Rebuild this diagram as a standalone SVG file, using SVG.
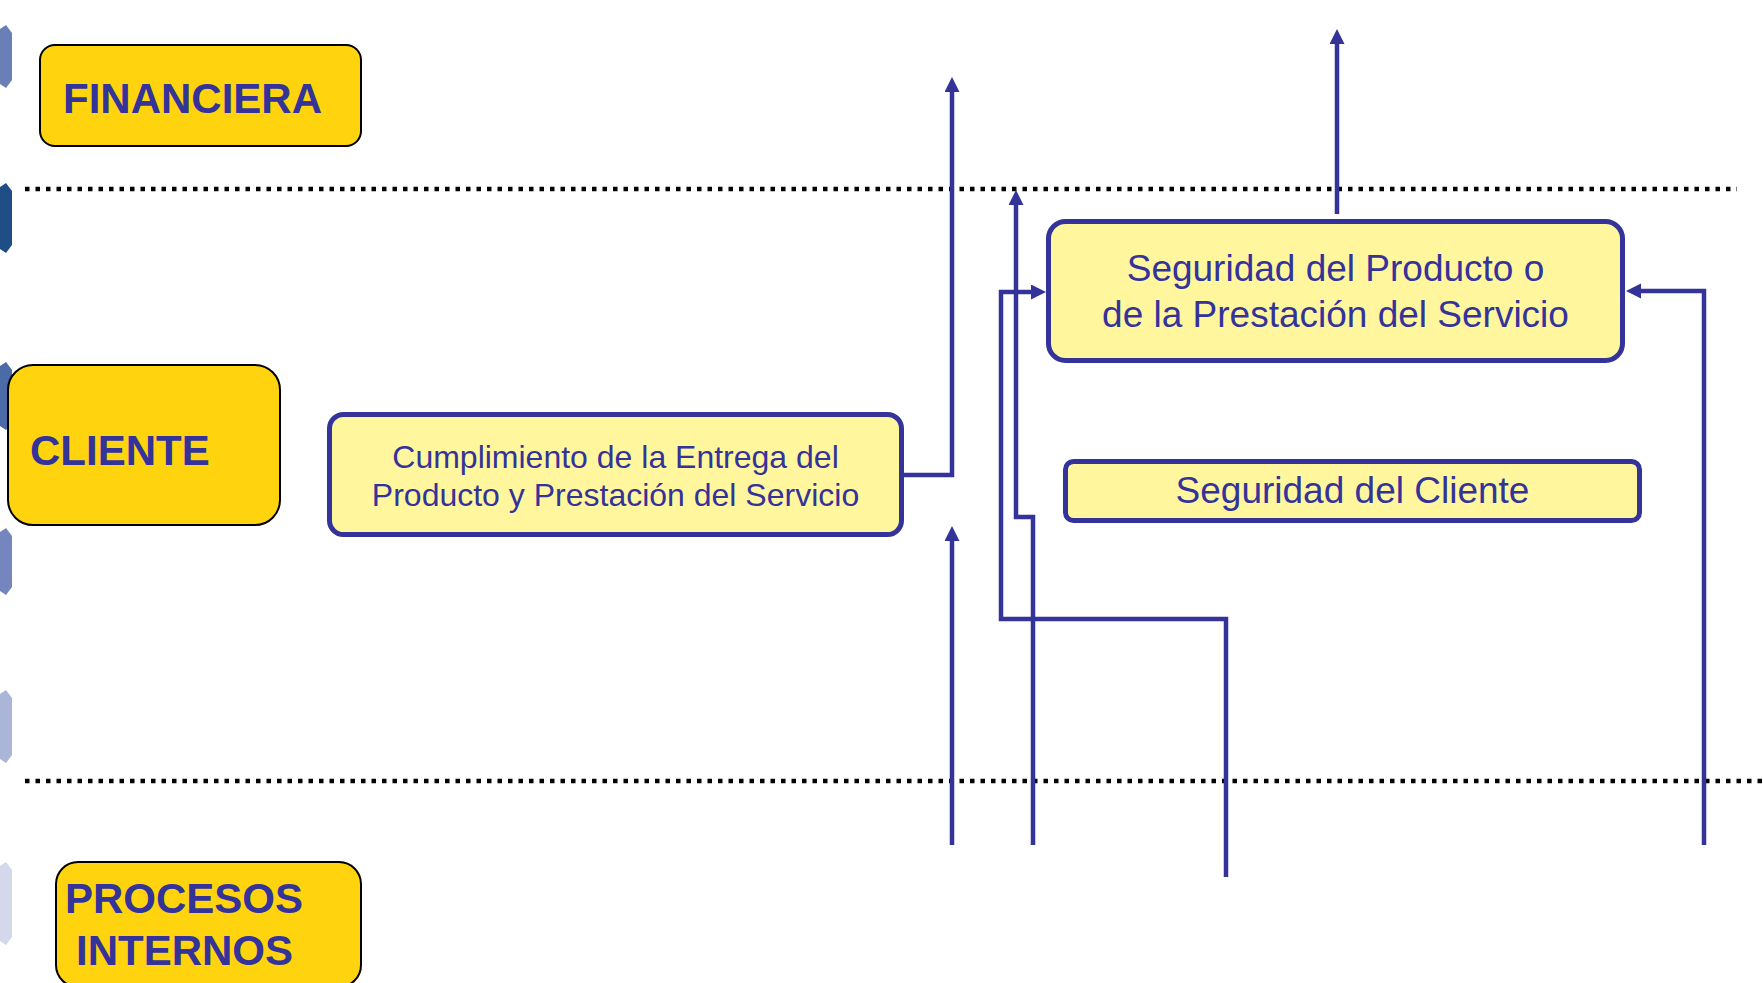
<svg xmlns="http://www.w3.org/2000/svg" width="1763" height="983" viewBox="0 0 1763 983">
<style>
.lane{fill:#FFD40F;stroke:#000;stroke-width:2}
.lt{font-family:"Liberation Sans",Arial,sans-serif;font-weight:bold;font-size:42px;fill:#333399}
.obj{fill:#FFF69E;stroke:#333399;stroke-width:5}
.ot{font-family:"Liberation Sans",Arial,sans-serif;fill:#333399;text-anchor:middle}
.dot{stroke:#000;stroke-width:4.5;stroke-dasharray:4.5 6;fill:none}
.c{fill:none;stroke:#333399;stroke-width:4.5}
.hx{stroke:none}
</style>
<defs>
<marker id="ah" markerUnits="userSpaceOnUse" markerWidth="15" markerHeight="16" refX="6" refY="7.5" orient="auto">
<path d="M0,0 L15,7.5 L0,15 z" fill="#333399"/>
</marker>
</defs>
<rect width="1763" height="983" fill="#fff"/>
<g id="decor">
<polygon class="hx" fill="#6A7FB5" points="0,29 6,25 12,33 12,80 6,88 0,84"/>
<polygon class="hx" fill="#1F4E86" points="0,187 6,183 12,191 12,245 6,253 0,249"/>
<polygon class="hx" fill="#4A6AA8" points="0,366 6,362 12,370 12,422 6,430 0,426"/>
<polygon class="hx" fill="#7585BE" points="0,532 6,528 12,536 12,587 6,595 0,591"/>
<polygon class="hx" fill="#AAB5D8" points="0,694 6,690 12,698 12,755 6,763 0,759"/>
<polygon class="hx" fill="#D3D8EA" points="0,866 6,862 12,870 12,937 6,945 0,941"/>
</g>
<g id="separators">
<line class="dot" x1="25" y1="189" x2="1737" y2="189"/>
<line class="dot" x1="25" y1="781" x2="1763" y2="781"/>
</g>
<g id="financiera">
<rect class="lane" x="40" y="45" width="321" height="101" rx="15"/>
<text class="lt" x="63" y="113">FINANCIERA</text>
</g>
<g id="cliente">
<rect class="lane" x="8" y="365" width="272" height="160" rx="25"/>
<text class="lt" x="30" y="465">CLIENTE</text>
</g>
<g id="procesos">
<rect class="lane" x="56" y="862" width="305" height="125" rx="22"/>
<text class="lt" x="65" y="913">PROCESOS</text>
<text class="lt" x="76" y="965">INTERNOS</text>
</g>
<g id="connectors">
<path class="c" d="M904,475 H952 V86" marker-end="url(#ah)"/>
<path class="c" d="M952,845 V535" marker-end="url(#ah)"/>
<path class="c" d="M1226,877 V619 H1001 V292 H1037" marker-end="url(#ah)"/>
<path class="c" d="M1033,845 V517 H1016 V199" marker-end="url(#ah)"/>
<path class="c" d="M1704,845 V291 H1635" marker-end="url(#ah)"/>
<path class="c" d="M1337,214 V38" marker-end="url(#ah)"/>
</g>
<g id="cumplimiento">
<rect class="obj" x="329.5" y="414.5" width="572" height="120" rx="14"/>
<text class="ot" font-size="32" x="615.5" y="468">Cumplimiento de la Entrega del</text>
<text class="ot" font-size="32" x="615.5" y="506">Producto y Prestación del Servicio</text>
</g>
<g id="seguridad-producto">
<rect class="obj" x="1048.5" y="221.5" width="574" height="139" rx="17"/>
<text class="ot" font-size="37" x="1335.5" y="281">Seguridad del Producto o</text>
<text class="ot" font-size="37" x="1335.5" y="327">de la Prestación del Servicio</text>
</g>
<g id="seguridad-cliente">
<rect class="obj" x="1065.5" y="461.5" width="574" height="59" rx="8"/>
<text class="ot" font-size="37" x="1352.5" y="503">Seguridad del Cliente</text>
</g>
</svg>
